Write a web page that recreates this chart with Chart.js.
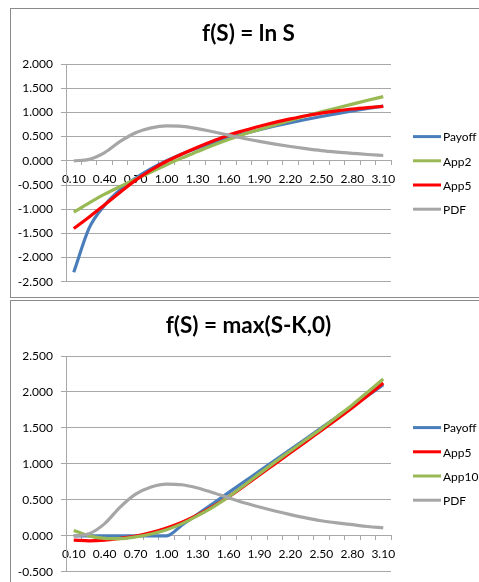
<!DOCTYPE html>
<html>
<head>
<meta charset="utf-8">
<script src="https://cdn.jsdelivr.net/npm/chart.js@4.4.1/dist/chart.umd.min.js"></script>
<style>
    body { margin: 0; background: #fff; width: 479px; height: 582px; overflow: hidden; position: relative; }
    .box { position: absolute; left: 10px; width: 480px; border: 1px solid #8a8a8a; background: #fff; }
    #topBox { top: 8px; height: 288px; }
    #bottomBox { top: 300px; height: 300px; }
    canvas { position: absolute; left: 0; top: 0; }
</style>
</head>
<body>
<div class="box" id="topBox"><canvas id="lnChart" width="468" height="288"></canvas></div>
<div class="box" id="bottomBox"><canvas id="callChart" width="468" height="286"></canvas></div>
<script>
// Categories (S)
const sValues = [0.10, 0.25, 0.40, 0.55, 0.70, 0.85, 1.00, 1.15, 1.30, 1.45, 1.60,
                 1.75, 1.90, 2.05, 2.20, 2.35, 2.50, 2.65, 2.80, 2.95, 3.10];

// Top chart: f(S) = ln S
const lnPayoff = [-2.303, -1.386, -0.916, -0.598, -0.357, -0.163, 0.000, 0.140, 0.262, 0.372, 0.470,
                  0.560, 0.642, 0.718, 0.788, 0.854, 0.916, 0.975, 1.030, 1.082, 1.131];
const lnApp2 = [-1.06, -0.87, -0.69, -0.53, -0.38, -0.23, -0.08, 0.06, 0.19, 0.32, 0.44,
                0.55, 0.645, 0.74, 0.835, 0.925, 1.01, 1.09, 1.17, 1.25, 1.325];
const lnApp5 = [-1.40, -1.16, -0.91, -0.65, -0.40, -0.19, -0.01, 0.14, 0.28, 0.41, 0.53,
                0.625, 0.715, 0.795, 0.865, 0.93, 0.985, 1.03, 1.07, 1.10, 1.125];

// Bottom chart: f(S) = max(S-K,0)
const callPayoff = [0, 0, 0, 0, 0, 0, 0, 0.15, 0.30, 0.45, 0.60,
                    0.75, 0.90, 1.05, 1.20, 1.35, 1.50, 1.65, 1.80, 1.95, 2.10];
const callApp5 = [-0.06, -0.07, -0.06, -0.035, -0.005, 0.045, 0.11, 0.19, 0.29, 0.41, 0.54,
                  0.69, 0.845, 1.00, 1.155, 1.31, 1.465, 1.62, 1.78, 1.95, 2.125];
const callApp10 = [0.075, 0.0, -0.035, -0.04, -0.015, 0.025, 0.085, 0.17, 0.28, 0.40, 0.54,
                   0.70, 0.865, 1.025, 1.18, 1.335, 1.49, 1.655, 1.82, 2.0, 2.18];

// Density, same in both charts
const pdfValues = [0.00, 0.03, 0.17, 0.40, 0.58, 0.68, 0.72, 0.71, 0.665, 0.60, 0.53,
                   0.46, 0.40, 0.345, 0.295, 0.25, 0.21, 0.18, 0.155, 0.13, 0.11];

const colors = {
    blue: '#4a7ebb',
    green: '#98b954',
    red: '#ff0000',
    gray: '#a6a6a6',
    grid: '#a8a8a8'
};

Chart.defaults.font.family = 'Lato';
Chart.defaults.font.size = 12;
Chart.defaults.color = '#000';

// Excel style legend at the right: short line + label, centred on the plot area
const lineLegend = {
    id: 'lineLegend',
    afterDraw(chart) {
        const { ctx, chartArea } = chart;
        const sets = chart.data.datasets;
        const gap = 24.2;
        const x = chartArea.right + 22;
        let y = (chartArea.top + chartArea.bottom) / 2 - gap * (sets.length - 1) / 2;
        ctx.save();
        ctx.font = '12px Lato';
        ctx.fillStyle = '#000';
        ctx.textBaseline = 'middle';
        ctx.lineWidth = 3;
        sets.forEach(ds => {
            ctx.strokeStyle = ds.borderColor;
            ctx.beginPath();
            ctx.moveTo(x, y);
            ctx.lineTo(x + 28, y);
            ctx.stroke();
            ctx.fillText(ds.label, x + 30, y + 1);
            y += gap;
        });
        ctx.restore();
    }
};

function series(label, data, color, order) {
    return {
        label: label,
        data: data,
        borderColor: color,
        backgroundColor: color,
        borderWidth: 3.2,
        pointRadius: 0,
        cubicInterpolationMode: 'monotone',
        order: order
    };
}

function makeChart(id, title, yMin, yMax, datasets, bottomPad) {
    return new Chart(document.getElementById(id), {
        type: 'line',
        data: {
            labels: sValues.map(v => v.toFixed(2)),
            datasets: datasets
        },
        options: {
            responsive: false,
            animation: false,
            layout: { padding: { left: 7, right: 0, top: 0, bottom: bottomPad } },
            plugins: {
                legend: { display: false },
                tooltip: { enabled: false },
                title: {
                    display: true,
                    text: title,
                    font: { size: 22.5, weight: 'bold' },
                    color: '#000',
                    padding: { top: 11, bottom: 17 }
                }
            },
            scales: {
                x: {
                    type: 'category',
                    position: { y: 0 },
                    offset: true,
                    grid: {
                        offset: true,
                        drawOnChartArea: false,
                        drawTicks: true,
                        tickLength: 4,
                        color: colors.grid
                    },
                    border: { display: true, color: colors.grid },
                    ticks: {
                        autoSkip: false,
                        maxRotation: 0,
                        padding: 7,
                        callback: function(value, index) {
                            return index % 2 === 0 ? this.getLabelForValue(value) : '';
                        }
                    }
                },
                y: {
                    min: yMin,
                    max: yMax,
                    afterFit: scale => { scale.width = 48; },
                    grid: { color: colors.grid, tickLength: 5 },
                    border: { display: true, color: colors.grid },
                    ticks: {
                        stepSize: 0.5,
                        padding: 8,
                        callback: value => value.toFixed(3)
                    }
                },
                // empty axis that keeps room for the legend on the right
                legendSpace: {
                    type: 'linear',
                    position: 'right',
                    afterFit: scale => { scale.width = 88; },
                    grid: { display: false },
                    border: { display: false },
                    ticks: { display: false }
                }
            }
        },
        plugins: [lineLegend]
    });
}

makeChart('lnChart', 'f(S) = ln S', -2.5, 2.0, [
    series('Payoff', lnPayoff, colors.blue, 4),
    series('App2', lnApp2, colors.green, 3),
    series('App5', lnApp5, colors.red, 2),
    series('PDF', pdfValues, colors.gray, 1)
], 11);

makeChart('callChart', 'f(S) = max(S-K,0)', -0.5, 2.5, [
    series('Payoff', callPayoff, colors.blue, 4),
    series('App5', callApp5, colors.red, 3),
    series('App10', callApp10, colors.green, 2),
    series('PDF', pdfValues, colors.gray, 1)
], 0);
</script>
</body>
</html>
